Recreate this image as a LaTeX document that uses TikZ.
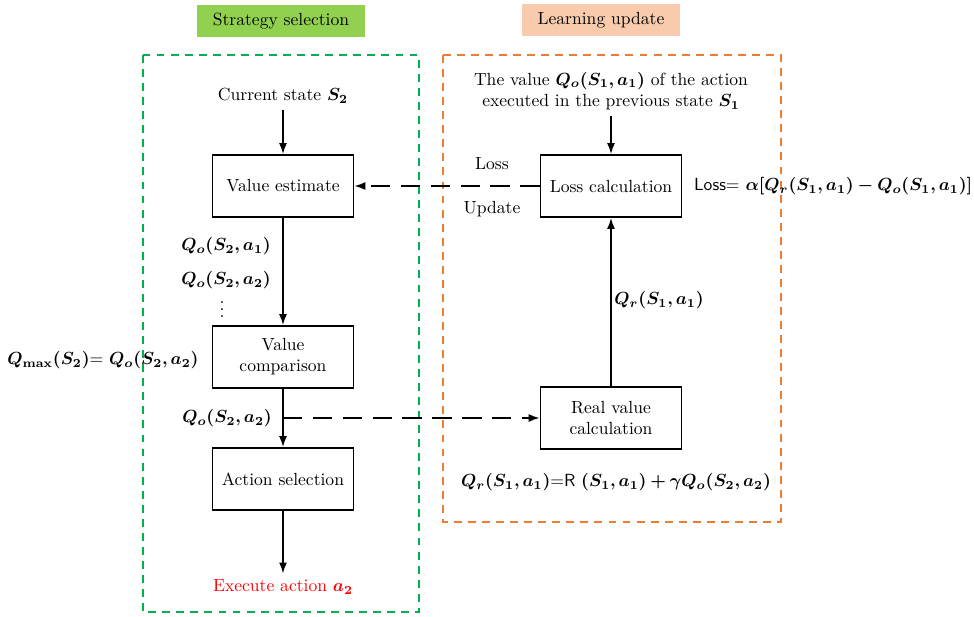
\documentclass[tikz,border=0pt]{standalone}
\usepackage{amsmath}
\usepackage{bm}
\usetikzlibrary{positioning,arrows.meta}
\definecolor{leafgreen}{RGB}{146,208,80}
\definecolor{peach}{RGB}{248,203,173}
\definecolor{dashgreen}{RGB}{0,176,80}
\definecolor{dashorange}{RGB}{237,125,49}
\tikzset{
  block/.style={draw,line width=1pt,minimum width=2.82cm,minimum height=1.24cm,align=center},
  flow/.style={line width=1pt,-{Latex[length=2.2mm,width=1.6mm]}},
  fb/.style={flow,dash pattern=on 11pt off 6pt},
  group/.style={line width=1pt,dash pattern=on 4.5pt off 3.5pt},
  banner/.style={minimum height=0.64cm,inner xsep=0pt}
}
\begin{document}
\begin{tikzpicture}[x=0.02cm,y=-0.02cm]
        \useasboundingbox (0,0) rectangle (974,616);
        % the two groups
        \node[banner,fill=leafgreen,minimum width=3.36cm] (stitle) at (281,21) {Strategy selection};
        \node[banner,fill=peach,minimum width=3.18cm] (ltitle) at (601,20) {Learning update};
        \draw[group,dashgreen] (143,55) rectangle (419,612);
        \draw[group,dashorange] (443,55) rectangle (781,522);
        % strategy selection
        \node (cur) at (283,96) {Current state $\bm{S_2}$};
        \node[block] (est) at (283,186) {Value estimate};
        \node[block] (cmp) at (283,357) {Value\\comparison};
        \node[block] (act) at (283,479) {Action selection};
        \node[text=red] (exe) at (283,587) {Execute action $\bm{a_2}$};
        % learning update
        \node[align=center] (prev) at (611,91) {The value $\bm{Q_o(S_1,a_1)}$ of the action\\executed in the previous state $\bm{S_1}$};
        \node[block] (loss) at (611,186) {Loss calculation};
        \node[block] (real) at (611,418) {Real value\\calculation};
        \draw[flow] (cur) -- (est);
        \draw[flow] (est) -- (cmp);
        \draw[flow] (cmp) -- (act);
        \draw[flow] (act) -- (exe);
        \draw[flow] (prev) -- (loss);
        \draw[flow] (real) -- (loss);
        \draw[fb] (loss) -- (est);
        \draw[fb] (cmp.south |- real.west) -- (real.west);
        % labels
        \node (qa1) at (226,246) {$\bm{Q_o(S_2,a_1)}$};
        \node (qa2) at (226,280) {$\bm{Q_o(S_2,a_2)}$};
        \node (qdots) at (222,304) {$\vdots$};
        \node (qmax) at (103,360) {$\bm{Q_{\mathbf{max}}(S_2)}$= $\bm{Q_o(S_2,a_2)}$};
        \node (qsel) at (227,418) {$\bm{Q_o(S_2,a_2)}$};
        \node (lossl) at (492,164) {Loss};
        \node (upd) at (492,209) {Update};
        \node[anchor=west] (lossf) at (688,186) {\textsf{Loss=} $\bm{\alpha[Q_r(S_1,a_1)-Q_o(S_1,a_1)]}$};
        \node (qr) at (659,300) {$\bm{Q_r(S_1,a_1)}$};
        \node (realf) at (616,482) {$\bm{Q_r(S_1,a_1)}$=\textsf{R} $\bm{(S_1,a_1)+\gamma Q_o(S_2,a_2)}$};
\end{tikzpicture}
\end{document}
